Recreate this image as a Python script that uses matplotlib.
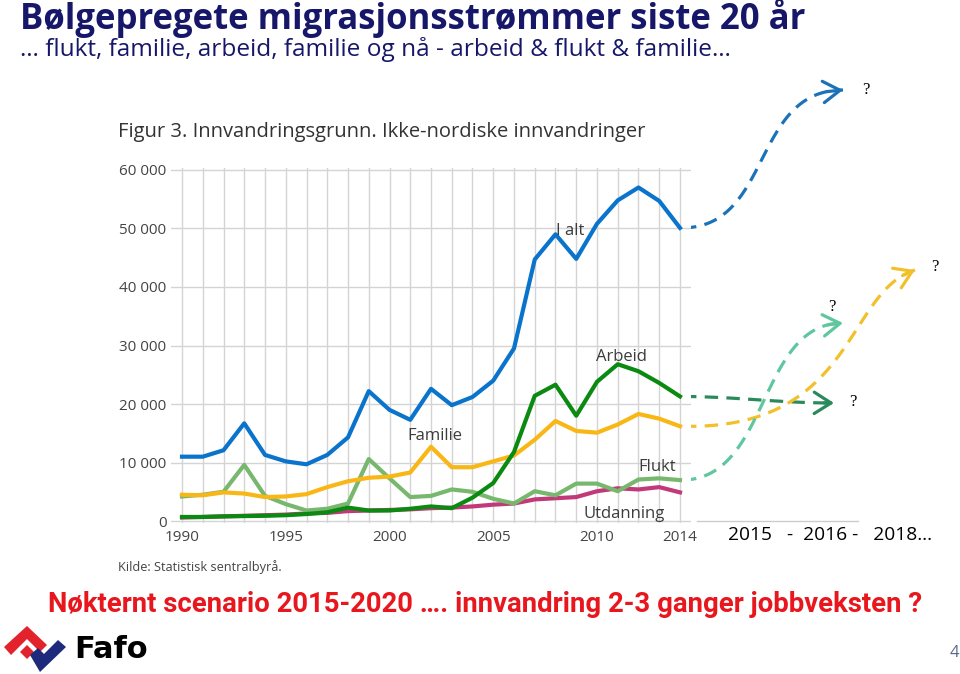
import numpy as np
import matplotlib
matplotlib.use('Agg')
import matplotlib.pyplot as plt
from matplotlib.patches import Polygon

# data (ikke-nordiske innvandringer)
years = list(range(1990, 2015))
i_alt = [11000, 11000, 12100, 16700, 11300, 10200, 9700, 11300, 14300, 22200,
         19000, 17300, 22600, 19800, 21200, 24000, 29500, 44700, 49000, 44800,
         50800, 54800, 57000, 54700, 50100]
arbeid = [700, 700, 800, 850, 900, 1000, 1200, 1500, 2300, 1800,
          1800, 2100, 2500, 2200, 4000, 6500, 11800, 21400, 23300, 18000,
          23800, 26800, 25600, 23600, 21300]
familie = [4500, 4400, 4900, 4700, 4100, 4200, 4600, 5800, 6800, 7400,
           7600, 8300, 12700, 9200, 9200, 10200, 11200, 13900, 17100, 15400,
           15100, 16500, 18300, 17500, 16200]
flukt = [4200, 4500, 5000, 9600, 4300, 2900, 1800, 2100, 3000, 10600,
         7300, 4100, 4300, 5400, 5000, 3800, 3000, 5100, 4400, 6400,
         6400, 5100, 7100, 7300, 7000]
utdanning = [600, 700, 800, 900, 1000, 1100, 1300, 1400, 1700, 1800,
             1900, 2000, 2200, 2300, 2500, 2800, 3000, 3700, 3900, 4100,
             5100, 5600, 5400, 5800, 4900]
xticks = [1990, 1995, 2000, 2005, 2010, 2014]
yticks = [0, 10000, 20000, 30000, 40000, 50000, 60000]
ytick_labels = ['0', '10 000', '20 000', '30 000', '40 000', '50 000', '60 000']

navy = '#17176a'
grey_txt = '#3c3c3c'

fig = plt.figure(figsize=(9.6, 6.74), dpi=100)
fig.patch.set_facecolor('white')

# overlay in pixel coordinates for slide text and the hand-drawn arrows
ov = fig.add_axes([0, 0, 1, 1])
ov.set_xlim(0, 960)
ov.set_ylim(674, 0)
ov.axis('off')

# the chart itself
ax = fig.add_axes([170.6 / 960, (674 - 523.4) / 674, 520.8 / 960, 355.8 / 674])
ax.set_xlim(1989.45, 2014.55)
ax.set_ylim(-400, 60400)
ax.set_xticks(range(1990, 2015), minor=True)
ax.set_xticks(xticks)
ax.set_xticklabels([str(y) for y in xticks])
ax.set_yticks(yticks)
ax.set_yticklabels(ytick_labels)
ax.grid(True, which='both', axis='x', color='#d4d4d4', lw=1)
ax.grid(True, axis='y', color='#d4d4d4', lw=1)
ax.set_axisbelow(True)
for s in ax.spines.values():
    s.set_visible(False)
ax.tick_params(which='both', length=0)
ax.tick_params(axis='x', pad=5, labelsize=11, labelcolor='#444444')
ax.tick_params(axis='y', pad=3, labelsize=11, labelcolor='#444444')
for lab in ax.get_xticklabels() + ax.get_yticklabels():
    lab.set_family('Open Sans')

lw = 3.0
ax.plot(years, utdanning, color='#c2397a', lw=lw)
ax.plot(years, flukt, color='#78b86e', lw=lw)
ax.plot(years, familie, color='#f9b716', lw=lw)
ax.plot(years, arbeid, color='#0b8a12', lw=lw)
ax.plot(years, i_alt, color='#0a74cc', lw=lw)

lab_kw = dict(fontsize=12, color=grey_txt, family='Open Sans', ha='center', va='center')
ax.text(2008.7, 49500, 'I alt', **lab_kw)
ax.text(2011.2, 28000, 'Arbeid', **lab_kw)
ax.text(2002.2, 14500, 'Familie', **lab_kw)
ax.text(2012.9, 9300, 'Flukt', **lab_kw)
ax.text(2011.3, 1200, 'Utdanning', **lab_kw)

ov.text(118, 132, 'Figur 3. Innvandringsgrunn. Ikke-nordiske innvandringer',
        fontsize=14.5, color='#333333', family='Open Sans', va='center', ha='left')
ov.text(118, 567, 'Kilde: Statistisk sentralbyrå.', fontsize=9.2, color='#444444',
        family='Open Sans', va='center', ha='left')

# slide titles
ov.text(20, 18, 'Bølgepregete migrasjonsstrømmer siste 20 år', fontsize=25,
        fontweight='bold', color=navy, family='Open Sans', va='center', ha='left')
ov.text(20, 50, '… flukt, familie, arbeid, familie og nå - arbeid & flukt & familie…',
        fontsize=17.6, color=navy, family='Open Sans', va='center', ha='left')

# extended time axis
ov.plot([697, 858], [521, 521], color='#cccccc', lw=1)
ov.text(728, 535, '2015   -  2016 -   2018…', fontsize=13.8, color='black',
        family='Open Sans', va='center', ha='left')


def to_px(x, y):
    d = ax.transData.transform((x, y))
    return ov.transData.inverted().transform(d)


def bez(p0, p1, p2, p3, n=80):
    t = np.linspace(0, 1, n)[:, None]
    p0, p1, p2, p3 = map(np.asarray, (p0, p1, p2, p3))
    return (1 - t) ** 3 * p0 + 3 * (1 - t) ** 2 * t * p1 + 3 * (1 - t) * t ** 2 * p2 + t ** 3 * p3


def dashed_arrow(y_val, c1, c2, end, color, qpos):
    x0, y0 = to_px(2014, y_val)
    pts = bez((x0 + 3, y0), c1, c2, end)
    ov.plot(pts[:, 0], pts[:, 1], color=color, lw=2.3, dashes=(4.2, 2.6),
            dash_capstyle='butt')
    ov.annotate('', xy=pts[-1], xytext=pts[-6],
                arrowprops=dict(arrowstyle='->,head_length=0.55,head_width=0.35',
                                color=color, lw=2.3, mutation_scale=22,
                                shrinkA=0, shrinkB=0))
    ov.text(qpos[0], qpos[1], '?', fontsize=12, family='Liberation Serif',
            color='black', ha='center', va='center')


dashed_arrow(i_alt[-1], (772, 227), (752, 90), (843, 90), '#1c72b8', (866, 90))
dashed_arrow(arbeid[-1], (740, 397), (780, 403), (834, 403), '#2b8a5c', (853, 402))
dashed_arrow(familie[-1], (855, 430), (845, 292), (915, 270), '#f2c02a', (935, 267))
dashed_arrow(flukt[-1], (770, 478), (758, 323), (843, 323), '#5fc7a0', (832, 307))

# bottom message
ov.text(485, 604, 'Nøkternt scenario 2015-2020 …. innvandring 2-3 ganger jobbveksten ?',
        fontsize=19.8, fontweight='bold', color='#e8161d',
        family=['Roboto', 'DejaVu Sans'], va='center', ha='center')

# Fafo logo
ov.add_patch(Polygon([(4, 647), (27, 626), (47, 645), (40, 652), (27, 639), (11, 655)],
                     closed=True, color='#e3232b', lw=0))
ov.add_patch(Polygon([(20, 652), (27, 645), (34, 652), (27, 659)],
                     closed=True, color='#e3232b', lw=0))
ov.add_patch(Polygon([(30, 655), (38, 648), (44, 654), (58, 640), (66, 647), (40, 672)],
                     closed=True, color='#1e2a7c', lw=0))
ov.text(74, 649, 'Fafo', fontsize=22, fontweight='bold', color='black',
        family='DejaVu Sans', va='center', ha='left')
ov.text(954, 653, '4', fontsize=12, color='#5a6c8c', family='Open Sans',
        va='center', ha='center')

fig.savefig('out.png', dpi=100)
